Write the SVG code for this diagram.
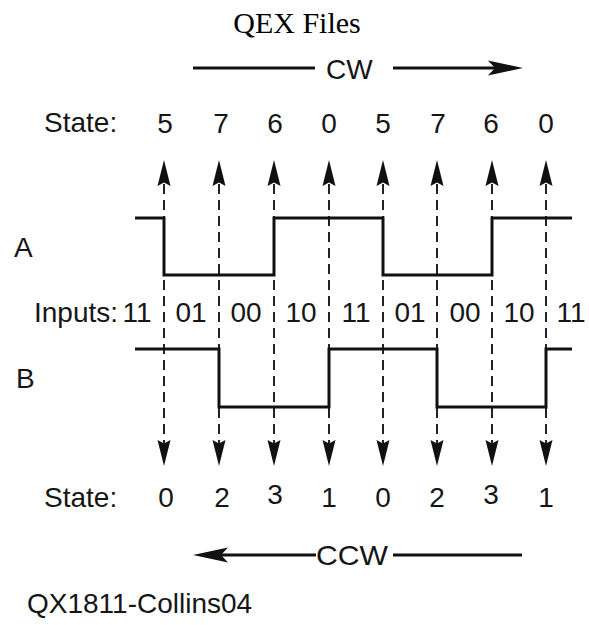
<svg xmlns="http://www.w3.org/2000/svg" width="589" height="625" viewBox="0 0 589 625">
<defs>
<style>
.t{font-family:"Liberation Sans",Arial,sans-serif;font-size:28px;fill:#161616}
.c{text-anchor:middle}
.title{font-family:"Liberation Serif","Times New Roman",serif;font-size:30px;fill:#000;text-anchor:middle}
.wave{fill:none;stroke:#111;stroke-width:3;stroke-linejoin:miter}
.dash{fill:none;stroke:#222;stroke-width:2;stroke-dasharray:10 6}
.dir{fill:none;stroke:#111;stroke-width:3}
.head{fill:#111}
</style>
<path id="up" d="M0,0 L-6.5,26 L0,22.5 L6.5,26 Z"/>
<path id="down" d="M0,0 L-6.5,-26 L0,-22.5 L6.5,-26 Z"/>
</defs>
<rect width="589" height="625" fill="#fff"/>
<g id="title"><text class="title" x="297" y="33">QEX Files</text></g>

<g id="cw-arrow">
<line class="dir" x1="193" y1="68" x2="315" y2="68"/>
<text class="t" x="326" y="79">CW</text>
<line class="dir" x1="393" y1="68" x2="496" y2="68"/>
<path class="head" d="M523,68 L488,60.5 L495,68 L488,75.5 Z"/>
</g>

<g id="state-cw">
<text class="t" x="44" y="132">State:</text>
<text class="t c" x="165" y="133">5</text>
<text class="t c" x="221" y="133">7</text>
<text class="t c" x="275" y="133">6</text>
<text class="t c" x="329" y="133">0</text>
<text class="t c" x="383" y="133">5</text>
<text class="t c" x="438" y="133">7</text>
<text class="t c" x="491" y="133">6</text>
<text class="t c" x="546" y="133">0</text>
</g>

<g id="connectors">
<g class="dash">
<line x1="164" y1="184" x2="164" y2="444"/>
<line x1="219" y1="184" x2="219" y2="444"/>
<line x1="274" y1="184" x2="274" y2="444"/>
<line x1="329" y1="184" x2="329" y2="444"/>
<line x1="383" y1="184" x2="383" y2="444"/>
<line x1="437" y1="184" x2="437" y2="444"/>
<line x1="492" y1="184" x2="492" y2="444"/>
<line x1="546" y1="184" x2="546" y2="444"/>
</g>
<g class="head">
<use href="#up" x="164" y="160"/>
<use href="#up" x="219" y="160"/>
<use href="#up" x="274" y="160"/>
<use href="#up" x="329" y="160"/>
<use href="#up" x="383" y="160"/>
<use href="#up" x="437" y="160"/>
<use href="#up" x="492" y="160"/>
<use href="#up" x="546" y="160"/>
<use href="#down" x="164" y="466"/>
<use href="#down" x="219" y="466"/>
<use href="#down" x="274" y="466"/>
<use href="#down" x="329" y="466"/>
<use href="#down" x="383" y="466"/>
<use href="#down" x="437" y="466"/>
<use href="#down" x="492" y="466"/>
<use href="#down" x="546" y="466"/>
</g>
</g>

<g id="signal-a">
<text class="t" x="14" y="257">A</text>
<polyline class="wave" points="135,218 164,218 164,275 274,275 274,218 383,218 383,275 492,275 492,218 572,218"/>
</g>

<g id="inputs">
<text class="t" x="34" y="322">Inputs:</text>
<text class="t c" x="137" y="322">11</text>
<text class="t c" x="191" y="322">01</text>
<text class="t c" x="246" y="322">00</text>
<text class="t c" x="301" y="322">10</text>
<text class="t c" x="356" y="322">11</text>
<text class="t c" x="410" y="322">01</text>
<text class="t c" x="465" y="322">00</text>
<text class="t c" x="519" y="322">10</text>
<text class="t c" x="571" y="322">11</text>
</g>

<g id="signal-b">
<text class="t" x="16" y="388">B</text>
<polyline class="wave" points="135,349 219,349 219,407 329,407 329,349 437,349 437,407 546,407 546,349 572,349"/>
</g>

<g id="state-ccw">
<text class="t" x="44" y="507">State:</text>
<text class="t c" x="166" y="507">0</text>
<text class="t c" x="222" y="507">2</text>
<text class="t c" x="275" y="504">3</text>
<text class="t c" x="329" y="507">1</text>
<text class="t c" x="383" y="507">0</text>
<text class="t c" x="437" y="507">2</text>
<text class="t c" x="491" y="504">3</text>
<text class="t c" x="546" y="507">1</text>
</g>

<g id="ccw-arrow">
<path class="head" d="M193,555 L228,547.5 L221,555 L228,562.5 Z"/>
<line class="dir" x1="221" y1="555" x2="316" y2="555"/>
<text class="t" x="316" y="565" textLength="72" lengthAdjust="spacingAndGlyphs">CCW</text>
<line class="dir" x1="393" y1="555" x2="522" y2="555"/>
</g>

<g id="caption"><text class="t" x="27" y="613">QX1811-Collins04</text></g>
</svg>
